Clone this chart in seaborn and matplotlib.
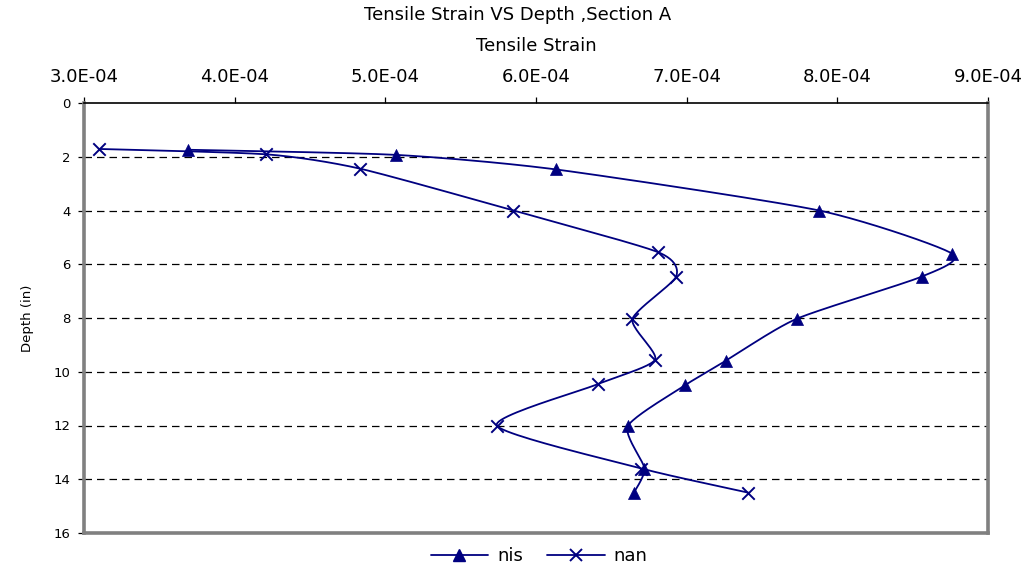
import numpy as np
import pandas as pd
import matplotlib
matplotlib.use("Agg")
import matplotlib.pyplot as plt
from matplotlib.lines import Line2D
import seaborn as sns

# Measured tensile strain profiles through Section A
nis_strain = [3.69e-4, 5.07e-4, 6.13e-4, 7.88e-4, 8.76e-4, 8.56e-4,
              7.73e-4, 7.26e-4, 6.99e-4, 6.61e-4, 6.72e-4, 6.65e-4]
nis_depth = [1.74, 1.93, 2.47, 4.0, 5.6, 6.46, 8.03, 9.59, 10.5, 12.02, 13.6, 14.5]

nan_strain = [3.10e-4, 4.21e-4, 4.83e-4, 5.85e-4, 6.81e-4, 6.93e-4,
              6.64e-4, 6.79e-4, 6.41e-4, 5.74e-4, 6.70e-4, 7.41e-4]
nan_depth = [1.71, 1.91, 2.44, 4.0, 5.55, 6.46, 8.04, 9.55, 10.46, 12.0, 13.6, 14.5]

x_ticks = [3.0e-4, 4.0e-4, 5.0e-4, 6.0e-4, 7.0e-4, 8.0e-4, 9.0e-4]
x_tick_labels = ["3.0E-04", "4.0E-04", "5.0E-04", "6.0E-04", "7.0E-04", "8.0E-04", "9.0E-04"]
y_ticks = [0, 2, 4, 6, 8, 10, 12, 14, 16]

NAVY = "#000080"
W, H = 1029, 580
AX_L, AX_R, AX_T, AX_B = 84, 988, 103, 533


def smooth_curve(xs, ys, sx, sy, tension=0.11, n=24):
    """Bezier smoothing through the points, computed in screen-proportional units."""
    p = np.column_stack([np.asarray(xs) * sx, np.asarray(ys) * sy])
    pad = np.vstack([p[0], p, p[-1]])
    pieces = []
    for i in range(len(p) - 1):
        p0, p1, p2, p3 = pad[i], pad[i + 1], pad[i + 2], pad[i + 3]
        c1 = p1 + (p2 - p0) * tension
        c2 = p2 - (p3 - p1) * tension
        t = np.linspace(0, 1, n, endpoint=(i == len(p) - 2))[:, None]
        pieces.append((1 - t) ** 3 * p1 + 3 * (1 - t) ** 2 * t * c1
                      + 3 * (1 - t) * t ** 2 * c2 + t ** 3 * p2)
    arr = np.vstack(pieces)
    return arr[:, 0] / sx, arr[:, 1] / sy


sns.set_theme(style="white")
plt.rcParams["font.family"] = ["DejaVu Sans"]
plt.rcParams.update({"text.color": "black", "axes.labelcolor": "black",
                     "xtick.color": "black", "ytick.color": "black"})

fig = plt.figure(figsize=(W / 100, H / 100), dpi=100)
ax = fig.add_axes([AX_L / W, 1 - AX_B / H, (AX_R - AX_L) / W, (AX_B - AX_T) / H])

sx = (AX_R - AX_L) / 6.0e-4
sy = (AX_B - AX_T) / 16.0

series = [("nis", nis_strain, nis_depth, "^"), ("nan", nan_strain, nan_depth, "x")]
for name, xs, ys, mk in series:
    cx, cy = smooth_curve(xs, ys, sx, sy)
    curve = pd.DataFrame({"strain": cx, "depth": cy})
    sns.lineplot(data=curve, x="strain", y="depth", sort=False, estimator=None,
                 color=NAVY, linewidth=1.3, ax=ax)
    pts = pd.DataFrame({"strain": xs, "depth": ys})
    if mk == "^":
        sns.scatterplot(data=pts, x="strain", y="depth", marker="^", s=75,
                        color=NAVY, edgecolor=NAVY, linewidth=0.5, ax=ax, zorder=4)
    else:
        sns.scatterplot(data=pts, x="strain", y="depth", marker="x", s=80,
                        color=NAVY, linewidth=1.4, ax=ax, zorder=4)

ax.set_xlim(3.0e-4, 9.0e-4)
ax.set_ylim(16, 0)

# horizontal dashed gridlines
for yv in y_ticks[1:-1]:
    ax.axhline(yv, color="black", linewidth=0.9, linestyle=(0, (6, 4)), zorder=1)

ax.xaxis.tick_top()
ax.xaxis.set_label_position("top")
ax.set_xticks(x_ticks)
ax.set_xticklabels(x_tick_labels)
ax.set_yticks(y_ticks)
ax.set_yticklabels([str(v) for v in y_ticks])
ax.tick_params(axis="x", which="both", top=True, bottom=False, direction="out",
               length=4.5, width=0.9, color="black", pad=8, labelsize=13,
               labelcolor="black")
ax.tick_params(axis="y", which="both", left=True, direction="out",
               length=4.5, width=0.9, color="black", pad=5, labelsize=9.5,
               labelcolor="black")

ax.set_xlabel("Tensile Strain", fontsize=13, labelpad=12, color="black")
ax.set_ylabel("Depth (in)", fontsize=9.5, labelpad=14, color="black")

for side in ["left", "right", "bottom"]:
    ax.spines[side].set_color("#808080")
    ax.spines[side].set_linewidth(2.6)
ax.spines["top"].set_color("black")
ax.spines["top"].set_linewidth(1.2)

fig.text(0.5035, 1 - 15 / H, "Tensile Strain VS Depth ,Section A",
         ha="center", va="center", fontsize=13, color="black")

handles = [Line2D([], [], color=NAVY, linewidth=1.3, marker="^", markersize=8.5),
           Line2D([], [], color=NAVY, linewidth=1.3, marker="x", markersize=8.5,
                  markeredgewidth=1.4)]
leg = fig.legend(handles, ["nis", "nan"], loc="center", bbox_to_anchor=(539 / W, 1 - 556 / H),
                 ncol=2, frameon=False, fontsize=13, handlelength=3.2, handletextpad=0.5,
                 columnspacing=1.3)
for txt in leg.get_texts():
    txt.set_color("black")

fig.savefig("out.png", dpi=100)
